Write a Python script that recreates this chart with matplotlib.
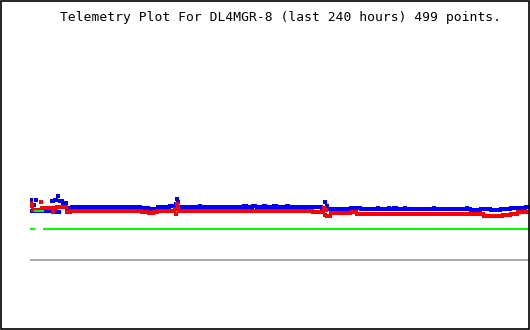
import numpy as np
import matplotlib
matplotlib.use("Agg")
import matplotlib.pyplot as plt
from matplotlib.patches import Rectangle

# Telemetry readings, 499 points, stored as (run length, level) pairs
blue_runs = [
    (1, 130), (2, 119), (1, 125), (1, 119), (1, 130), (15, 119), (2, 129),
    (1, 118), (2, 130), (1, 118), (1, 134), (1, 118), (3, 129), (4, 127),
    (5, 122), (69, 123), (8, 122), (9, 121), (13, 123), (6, 124), (1, 126),
    (1, 131), (1, 128), (21, 123), (1, 124), (43, 123), (3, 124), (6, 123),
    (3, 124), (7, 123), (2, 124), (8, 123), (3, 124), (11, 123), (2, 124),
    (33, 123), (3, 122), (1, 128), (1, 122), (1, 124), (23, 121), (10, 122),
    (17, 121), (1, 122), (10, 121), (1, 122), (4, 121), (1, 122), (1, 121),
    (1, 122), (8, 121), (1, 122), (28, 121), (1, 122), (32, 121), (1, 122),
    (3, 121), (10, 120), (10, 121), (10, 120), (10, 121), (14, 122), (4, 123),
]
red_runs = [
    (1, 126), (1, 124), (8, 120.5), (1, 128), (11, 122.5), (1, 118),
    (3, 122.5), (10, 123.5), (4, 118.5), (71, 119.3), (7, 118.3), (5, 117),
    (4, 118), (18, 119), (1, 121), (1, 116.5), (1, 126), (1, 122),
    (134, 119.3), (11, 118), (1, 122), (1, 115), (1, 120), (4, 114.5),
    (20, 117.5), (6, 118), (127, 116.5), (19, 114.5), (8, 115.5), (6, 116.5),
    (12, 118),
]
green_runs = [(4, 101.5), (9, 119.5), (486, 101.5)]
gray_level = [70]

title = "Telemetry Plot For DL4MGR-8 (last 240 hours) 499 points."


def expand(runs):
    counts = [c for c, _ in runs]
    levels = [v for _, v in runs]
    return np.repeat(levels, counts)


blue = expand(blue_runs)
red = expand(red_runs)
green = expand(green_runs)

fig = plt.figure(figsize=(5.3, 3.3), dpi=100)
ax = fig.add_axes([30 / 530, 0, 499 / 530, 1])
ax.axis("off")
ax.set_xlim(-0.5, 498.5)
ax.set_ylim(0, 330)

ax.axhline(gray_level[0], color="#aaaaaa", lw=1.44)
# each reading is drawn as a small block, not joined up
for vals, col, size in [(blue, "#0000ff", 2.2), (red, "#ff0000", 2.2),
                        (green, "#00ff00", 1.8)]:
    ax.plot(np.arange(len(vals)), vals, ls="none", marker="s", ms=size,
            mew=0, color=col, antialiased=False)

fig.text(60 / 530, 1 - 21 / 330, title, family="DejaVu Sans Mono",
         fontsize=9.4, ha="left", va="baseline")

# black frame round the whole picture
fig.patches.append(Rectangle((0.5 / 530, 1.5 / 330), 528.5 / 530, 328 / 330,
                             transform=fig.transFigure, fill=False,
                             edgecolor="black", lw=1.2))

fig.savefig("out.png", dpi=100)
